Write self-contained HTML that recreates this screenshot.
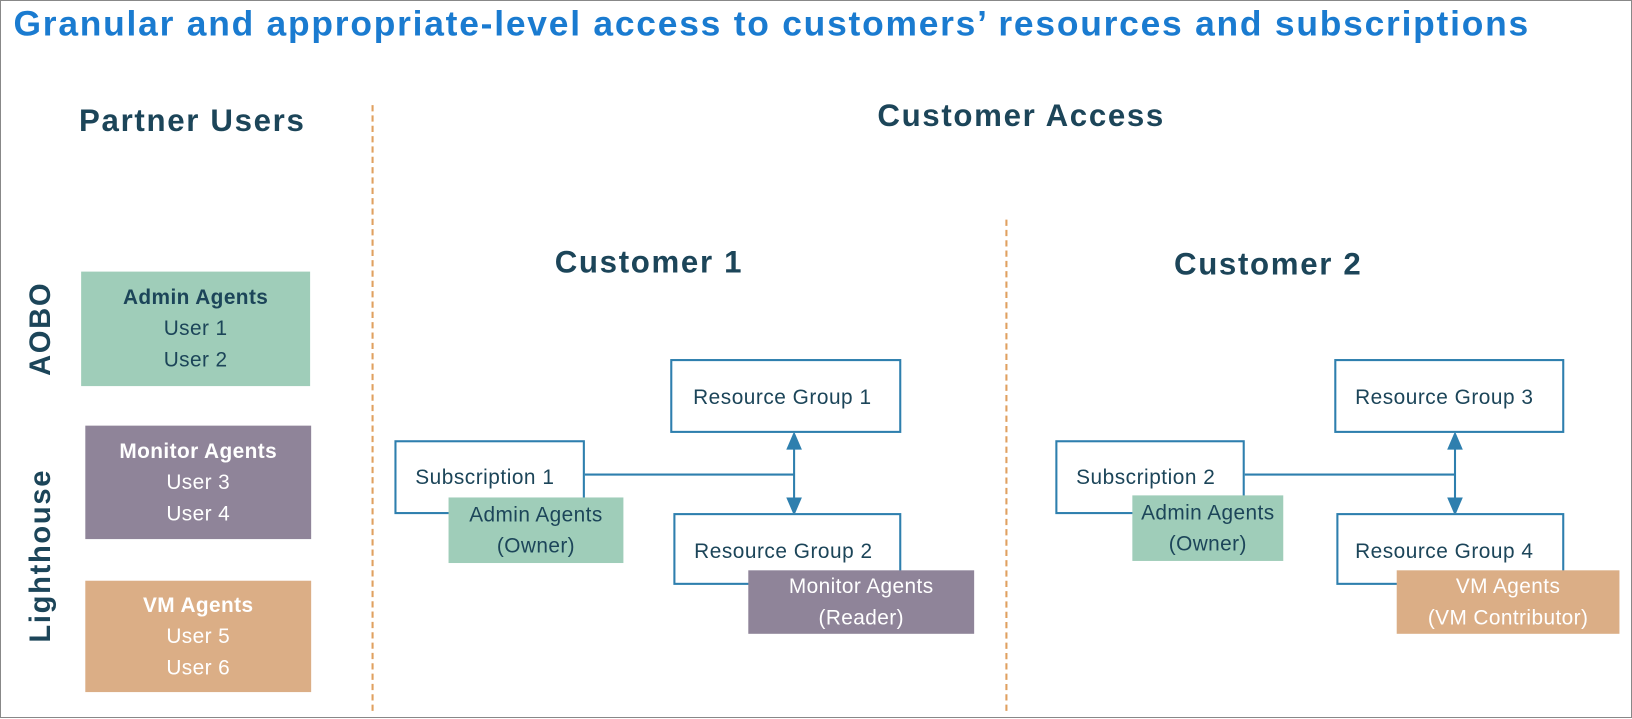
<!DOCTYPE html>
<html><head><meta charset="utf-8"><style>
html,body{margin:0;padding:0;background:#fff;overflow:hidden}
#wrap{position:absolute;left:0;top:0;width:1632px;height:718px;box-sizing:border-box;border:1px solid #888}
#s{position:absolute;left:0;top:0;width:1568px;height:690px;transform:scale(1.0408);transform-origin:0 0;font-family:"Liberation Sans",sans-serif;color:#1c4559}
.a{position:absolute}
.t{white-space:nowrap;font-weight:bold;letter-spacing:1.6px}
.box{position:absolute;box-sizing:border-box;text-align:center;font-size:20px;letter-spacing:0.4px;line-height:30px;display:flex;flex-direction:column;justify-content:center;white-space:nowrap}
.rg{position:absolute;box-sizing:border-box;border:2px solid #2e7fae;background:#fff;font-size:20px;letter-spacing:0.5px;color:#1c4559;white-space:nowrap}
.dash{position:absolute;width:0;border-left:2px dashed #e0a060}
</style></head><body><div id="wrap"><div id="s">
<div class="a t" style="left:12px;top:3px;font-size:34px;letter-spacing:1.7px;color:#1a7bd0">Granular and appropriate-level access to customers’ resources and subscriptions</div>
<div class="a t" style="left:75px;top:99px;font-size:30px">Partner Users</div>
<div class="a t" style="left:842px;top:94px;font-size:30px">Customer Access</div>
<div class="a t" style="left:532px;top:235px;font-size:30px">Customer 1</div>
<div class="a t" style="left:1127px;top:237px;font-size:30px">Customer 2</div>
<div class="dash" style="left:356px;top:100px;height:582px"></div>
<div class="dash" style="left:965px;top:210px;height:472px"></div>
<div class="a t" style="left:38px;top:315px;font-size:28px;transform:translate(-50%,-50%) rotate(-90deg)">AOBO</div>
<div class="a t" style="left:38px;top:533px;font-size:28px;transform:translate(-50%,-50%) rotate(-90deg)">Lighthouse</div>
<div class="box" style="left:77px;top:260px;width:220px;height:110px;background:#9fcdb9"><b>Admin Agents</b>User 1<br>User 2</div>
<div class="box" style="left:81px;top:408px;width:217px;height:109px;background:#8f8499;color:#fff"><b>Monitor Agents</b>User 3<br>User 4</div>
<div class="box" style="left:81px;top:557px;width:217px;height:107px;background:#dbae86;color:#fff"><b>VM Agents</b>User 5<br>User 6</div>

<svg class="a" style="left:0;top:0" width="1568" height="690">
<g stroke="#2e7fae" stroke-width="2" fill="#2e7fae">
<line x1="560" y1="455" x2="762" y2="455"/><line x1="762" y1="430" x2="762" y2="478"/>
<polygon points="756,430 768,430 762,416"/><polygon points="756,478 768,478 762,492"/>
<line x1="1194" y1="455" x2="1397" y2="455"/><line x1="1397" y1="430" x2="1397" y2="478"/>
<polygon points="1391,430 1403,430 1397,416"/><polygon points="1391,478 1403,478 1397,492"/>
</g></svg>

<div class="rg" style="left:643px;top:344px;width:222px;height:71px;padding:24px 0 0 20px">Resource Group 1</div>
<div class="rg" style="left:378px;top:422px;width:183px;height:71px;padding:23px 0 0 18px">Subscription 1</div>
<div class="rg" style="left:646px;top:492px;width:219px;height:69px;padding:24px 0 0 18px">Resource Group 2</div>
<div class="box" style="left:430px;top:477px;width:168px;height:63px;background:#9fcdb9">Admin Agents<br>(Owner)</div>
<div class="box" style="left:718px;top:547px;width:217px;height:61px;background:#8f8499;color:#fff">Monitor Agents<br>(Reader)</div>

<div class="rg" style="left:1281px;top:344px;width:221px;height:71px;padding:24px 0 0 18px">Resource Group 3</div>
<div class="rg" style="left:1013px;top:422px;width:182px;height:71px;padding:23px 0 0 18px">Subscription 2</div>
<div class="rg" style="left:1283px;top:492px;width:219px;height:69px;padding:24px 0 0 16px">Resource Group 4</div>
<div class="box" style="left:1087px;top:475px;width:145px;height:63px;background:#9fcdb9">Admin Agents<br>(Owner)</div>
<div class="box" style="left:1341px;top:547px;width:214px;height:61px;background:#dbae86;color:#fff">VM Agents<br>(VM Contributor)</div>
</div></div></body></html>
